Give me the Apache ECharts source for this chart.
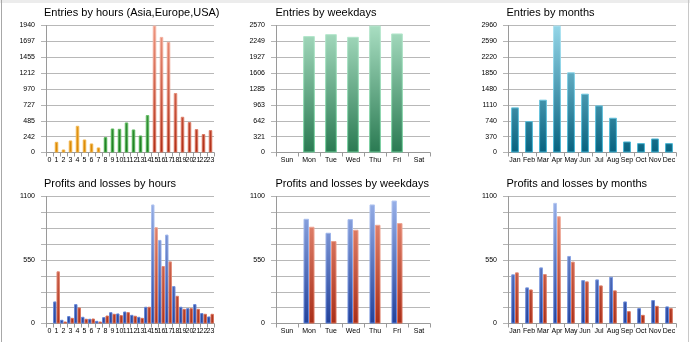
<!DOCTYPE html>
<html>
<head>
<meta charset="utf-8">
<script src="https://cdn.jsdelivr.net/npm/echarts@6/dist/echarts.min.js"></script>
<style>html,body{margin:0;padding:0;background:#fff;}#c{width:690px;height:342px;}</style>
</head>
<body>
<div id="c"></div>
<script>
// ---------- data ----------
const hours = ['0','1','2','3','4','5','6','7','8','9','10','11','12','13','14','15','16','17','18','19','20','21','22','23'];
const hourMarket = ['Asia','Asia','Asia','Asia','Asia','Asia','Asia','Asia',
  'Europe','Europe','Europe','Europe','Europe','Europe','Europe',
  'USA','USA','USA','USA','USA','USA','USA','USA','USA'];
const hourEntries = [0,163,46,184,408,199,138,77,235,367,362,459,352,260,572,1940,1766,1690,909,546,465,357,281,342];
const hourTicks = ['0','242','485','727','970','1212','1455','1697','1940'];

const weekdays = ['Sun','Mon','Tue','Wed','Thu','Fri','Sat'];
const weekdayEntries = [0,2355,2395,2341,2570,2409,0];
const weekdayTicks = ['0','321','642','963','1285','1606','1927','2249','2570'];

const months = ['Jan','Feb','Mar','Apr','May','Jun','Jul','Aug','Sep','Oct','Nov','Dec'];
const monthEntries = [1052,732,1231,2960,1869,1371,1098,810,257,218,327,218];
const monthTicks = ['0','370','740','1110','1480','1850','2220','2590','2960'];

const hourProfits = [0,191,32,64,168,58,41,23,55,98,87,104,75,58,145,1031,724,770,324,145,133,168,90,61];
const hourLosses  = [0,452,17,49,139,41,43,17,69,84,72,98,67,49,145,834,498,538,240,127,133,127,84,84];
const weekdayProfits = [0,907,786,904,1031,1065,0];
const weekdayLosses  = [0,838,714,812,855,870,0];
const monthProfits = [426,313,486,1045,585,376,382,405,191,133,203,148];
const monthLosses  = [443,295,428,929,536,365,330,287,107,75,153,133];
const plTicks = ['0','','','','550','','','','1100'];

const titles = ['Entries by hours (Asia,Europe,USA)','Entries by weekdays','Entries by months',
  'Profits and losses by hours','Profits and losses by weekdays','Profits and losses by months'];

// ---------- layout / style ----------
const FONT = 'Liberation Sans, Arial, sans-serif';
const cols = [{left:46,width:168},{left:276,width:154},{left:508,width:168}];
const rows = [{top:25.5,height:127},{top:196.5,height:127}];
const titleTops = [7,178];
const titleLefts = [44,275.5,506.5];

function grad(top, bottom, row){
  const r = rows[row];
  return {type:'linear', x:0, y:r.top, x2:0, y2:r.top+r.height, global:true,
    colorStops:[{offset:0,color:top},{offset:1,color:bottom}]};
}
const palettes = {
  Asia:   {f:['#fcc868','#d98806'], b:['#ffdc98','#f0b040']},
  Europe: {f:['#80cc80','#1e7a22'], b:['#a8e2a8','#4cb24e']},
  USA:    {f:['#ee9680','#ae2e18'], b:['#f6b8a8','#d66a52']},
  week:   {f:['#a9dec2','#2a7a52'], b:['#b8e8cf','#6ccc98']},
  month:  {f:['#95d6e8','#08627f'], b:['#b0e4f2','#3fb2d2']},
  blue:   {f:['#9bb3ea','#22419a'], b:['#b8caf2','#5b7fd6']},
  red:    {f:['#ee9680','#a82e18'], b:['#f6b8a8','#d66a52']}
};
function style(name,row){
  const p = palettes[name];
  return {color:grad(p.f[0],p.f[1],row), borderColor:grad(p.b[0],p.b[1],row), borderWidth:1};
}
const nz = v => (v === 0 ? '-' : v);

const grids=[], xAxes=[], yAxes=[], titleArr=[];
const cats = [hours,weekdays,months];
const maxes = [[1940,2570,2960],[1100,1100,1100]];
const ticks = [[hourTicks,weekdayTicks,monthTicks],[plTicks,plTicks,plTicks]];
let gi=0;
for(let r=0;r<2;r++){
  for(let c=0;c<3;c++){
    grids.push({left:cols[c].left, width:cols[c].width, top:rows[r].top, height:rows[r].height});
    titleArr.push({text:titles[gi], left:titleLefts[c], top:titleTops[r], padding:0,
      textStyle:{fontSize:11, fontWeight:'normal', color:'#000', fontFamily:FONT}});
    xAxes.push({type:'category', gridIndex:gi, data:cats[c], boundaryGap:true,
      axisLine:{show:true, lineStyle:{color:'#9a9a9a'}},
      axisTick:{show:true, length:4, interval:0, lineStyle:{color:'#9a9a9a'}},
      axisLabel:{interval:0, fontSize:7, margin:4, color:'#000', fontFamily:FONT, hideOverlap:false}});
    const mx = maxes[r][c], tk = ticks[r][c], step = mx/8;
    yAxes.push({type:'value', gridIndex:gi, min:0, max:mx, interval:step,
      axisLine:{show:true, lineStyle:{color:'#9a9a9a'}},
      axisTick:{show:true, length:5, lineStyle:{color:'#b4b4b4'}},
      splitLine:{show:true, lineStyle:{color:'#b8b8b8', width:1}},
      axisLabel:{fontSize:7, margin:11, color:'#000', fontFamily:FONT,
        formatter:(v)=>tk[Math.round(v/step)] || ''}});
    gi++;
  }
}

const series = [
  {type:'bar', xAxisIndex:0, yAxisIndex:0, barWidth:'50%',
    data:hourEntries.map((v,i)=>({value:nz(v), itemStyle:style(hourMarket[i],0)}))},
  {type:'bar', xAxisIndex:1, yAxisIndex:1, barWidth:'53%', itemStyle:style('week',0), data:weekdayEntries.map(nz)},
  {type:'bar', xAxisIndex:2, yAxisIndex:2, barWidth:'56%', itemStyle:style('month',0), data:monthEntries.map(nz)},
  {type:'bar', xAxisIndex:3, yAxisIndex:3, barWidth:3.4, barGap:'0%', itemStyle:style('blue',1), data:hourProfits.map(nz)},
  {type:'bar', xAxisIndex:3, yAxisIndex:3, barWidth:3.4, barGap:'0%', itemStyle:style('red',1), data:hourLosses.map(nz)},
  {type:'bar', xAxisIndex:4, yAxisIndex:4, barWidth:'25%', barGap:'0%', itemStyle:style('blue',1), data:weekdayProfits.map(nz)},
  {type:'bar', xAxisIndex:4, yAxisIndex:4, barWidth:'25%', barGap:'0%', itemStyle:style('red',1), data:weekdayLosses.map(nz)},
  {type:'bar', xAxisIndex:5, yAxisIndex:5, barWidth:'27%', barGap:'0%', itemStyle:style('blue',1), data:monthProfits.map(nz)},
  {type:'bar', xAxisIndex:5, yAxisIndex:5, barWidth:'27%', barGap:'0%', itemStyle:style('red',1), data:monthLosses.map(nz)}
];

const chart = echarts.init(document.getElementById('c'), null, {renderer:'canvas'});
chart.setOption({
  animation:false,
  backgroundColor:'#fff',
  title:titleArr,
  grid:grids, xAxis:xAxes, yAxis:yAxes, series:series,
  graphic:[
    {type:'rect', shape:{x:0,y:0,width:690,height:3}, style:{fill:'#ececec'}, silent:true},
    {type:'line', shape:{x1:1.5,y1:0,x2:1.5,y2:342}, style:{stroke:'#a8a8a8',lineWidth:1}, silent:true},
    {type:'line', shape:{x1:688.5,y1:0,x2:688.5,y2:342}, style:{stroke:'#c8c8c8',lineWidth:1}, silent:true}
  ]
});
</script>
</body>
</html>
